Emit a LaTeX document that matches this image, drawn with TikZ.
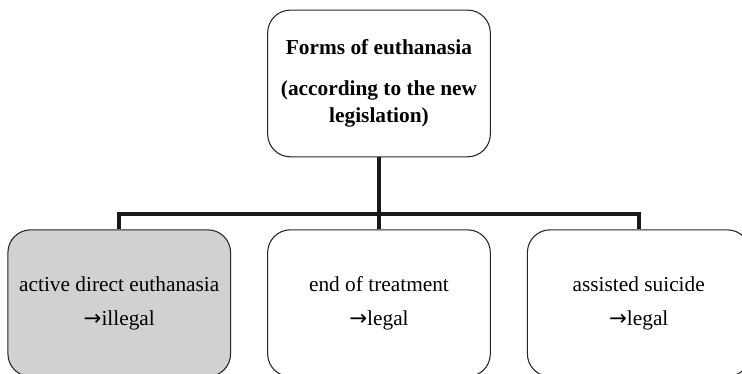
\documentclass[tikz,border=0pt]{standalone}
\usepackage{fontspec}
\setmainfont{Liberation Serif}
\newfontfamily\arrowfont{DejaVu Sans}
\newcommand{\toarrow}{{\arrowfont →}}
\usepackage{xcolor}
\usepackage{tikz}
\usetikzlibrary{positioning, calc}

\begin{document}
\begin{tikzpicture}[
    node distance=54pt and 27pt,
    box/.style={draw=black!85, line width=0.8pt, rectangle, rounded corners=17pt, minimum height=110pt, minimum width=167pt, inner sep=0pt, align=center, font=\fontsize{16}{20}\selectfont},
    bar/.style={line width=3pt, draw=black!90}
]
\useasboundingbox (-284.25pt,62.6pt) rectangle (272.25pt,-217.9pt);

\node[box] (forms) {\textbf{Forms of euthanasia}\\[10.75pt] \textbf{(according to the new}\\ \textbf{legislation)}};
\node[box, below=of forms] (treat) {end of treatment\\[5.5pt] \toarrow legal};
\node[box, fill=black!18, left=of treat] (active) {active direct euthanasia\\[5.5pt] \toarrow illegal};
\node[box, right=of treat] (assist) {assisted suicide\\[5.5pt] \toarrow legal};

\coordinate (split) at ($(forms.south)!0.79!(treat.north)$);

\draw[bar] (forms) -- (treat);
\draw[bar] (active.north) |- (split) -| (assist.north);

\end{tikzpicture}
\end{document}
